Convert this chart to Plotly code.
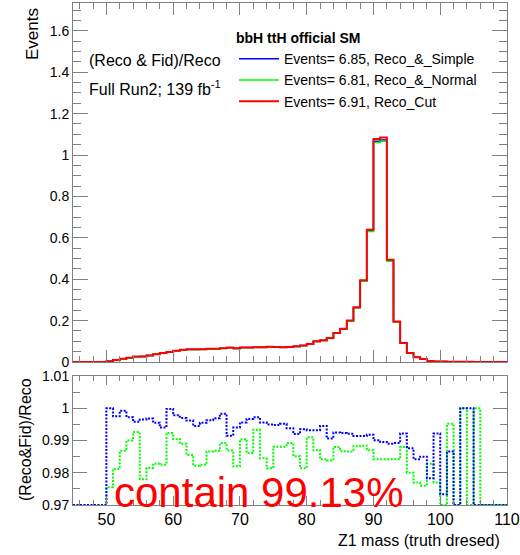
import numpy as np
import plotly.graph_objects as go

# ---------------- data ----------------
# 1 GeV bins from 45 to 110 (left edges 45..109)
bin_edges = list(range(45, 111))

# Reco_Cut (red) events per bin
reco_cut = [
    0, 0, 0, 0, 0,                                              # 45-49
    0.004, 0.010, 0.016, 0.020, 0.026, 0.027, 0.032, 0.038, 0.043, 0.048,  # 50-59
    0.054, 0.059, 0.061, 0.061, 0.062, 0.064, 0.064, 0.067, 0.070, 0.066,  # 60-69
    0.070, 0.070, 0.071, 0.071, 0.074, 0.073, 0.071, 0.073, 0.076, 0.080,  # 70-79
    0.087, 0.100, 0.105, 0.116, 0.140, 0.161, 0.200, 0.264, 0.395, 0.639,  # 80-89
    1.077, 1.084, 0.494, 0.196, 0.092, 0.043, 0.023, 0.014, 0.005, 0.003,  # 90-99
    0.002, 0.0015, 0.001, 0.0008, 0.0007, 0.0006, 0, 0, 0, 0,             # 100-109
]

# (Reco & Fid)/Reco ratios per bin
ratio_simple = [
    0, 0, 0, 0, 0,
    1.0000, 0.9975, 0.9992, 0.9972, 0.9958, 0.9965, 0.9968, 0.9955, 0.9940, 0.9998,
    0.9978, 0.9970, 0.9962, 0.9945, 0.9955, 0.9963, 0.9969, 0.9983, 0.9915, 0.9940,
    0.9956, 0.9967, 0.9972, 0.9956, 0.9950, 0.9948, 0.9952, 0.9938, 0.9920, 0.9935,
    0.9932, 0.9932, 0.9945, 0.9906, 0.9925, 0.9923, 0.9921, 0.9914, 0.9914, 0.9918,
    0.9901, 0.9895, 0.9890, 0.9892, 0.9922, 0.9876, 0.9842, 0.9850, 0.9783, 0.9922,
    0.9733, 0.9866, 0, 1.0, 1.0, 0, 0, 0, 0, 0,
]
ratio_normal = [
    0, 0, 0, 0, 0,
    0.9755, 0.9812, 0.9868, 0.9900, 0.9926, 0.9780, 0.9815, 0.9828, 0.9825, 0.9923,
    0.9905, 0.9890, 0.9855, 0.9822, 0.9825, 0.9866, 0.9868, 0.9892, 0.9869, 0.9820,
    0.9904, 0.9861, 0.9933, 0.9845, 0.9814, 0.9881, 0.9881, 0.9892, 0.9851, 0.9814,
    0.9910, 0.9870, 0.9842, 0.9838, 0.9880, 0.9867, 0.9866, 0.9882, 0.9884, 0.9870,
    0.9842, 0.9842, 0.9842, 0.9842, 0.9880, 0.9800, 0.9770, 0.9760, 0.9828, 0.9770,
    0, 0.9952, 0, 1.0, 0, 1.0, 0, 0, 0, 0,
]

legend_title = "bbH ttH official SM"
names = ["Events= 6.85, Reco_&_Simple", "Events= 6.81, Reco_&_Normal", "Events= 6.91, Reco_Cut"]
colors = ["#0000ff", "#00ff00", "#ff0000"]

# ---------------- figure ----------------
edges = np.array(bin_edges, dtype=float)
red = np.array(reco_cut)
blue = red * np.array(ratio_simple)
green = red * np.array(ratio_normal)

def step_y(v):
    v = list(v)
    return v + [v[-1]]

FONT = "Liberation Sans, Arial, Helvetica, sans-serif"
AX = "#808080"

fig = go.Figure()
for vals, nm, col, w in [(blue, names[0], colors[0], 1.5), (green, names[1], colors[1], 1.5), (red, names[2], colors[2], 2)]:
    fig.add_trace(go.Scatter(x=edges, y=step_y(vals), mode="lines", line=dict(color=col, width=w, shape="hv"),
                             name=nm, xaxis="x", yaxis="y"))

ymin2, ymax2 = 0.97, 1.01
for r, col in [(ratio_normal, colors[1]), (ratio_simple, colors[0])]:
    rr = np.clip(np.array(r), ymin2, ymax2)
    fig.add_trace(go.Scatter(x=edges, y=step_y(rr), mode="lines",
                             line=dict(color=col, width=2, shape="hv", dash="2px,1.5px"),
                             showlegend=False, xaxis="x2", yaxis="y2"))

W, H = 520, 555
ml, mr, mt, mb = 73, 13, 3, 50
pw, ph = W - ml - mr, H - mt - mb
def px(x):
    return (x - ml) / pw
def py(y):
    return (H - mb - y) / ph

common_x = dict(range=[45, 110], dtick=10, tick0=50, ticks="inside", tickcolor=AX, showline=True,
                linecolor=AX, linewidth=1, mirror="ticks", showgrid=False, zeroline=False, automargin=False)

fig.update_layout(
    width=W, height=H, margin=dict(l=ml, r=mr, t=mt, b=mb, autoexpand=False),
    paper_bgcolor="white", plot_bgcolor="white",
    font=dict(family=FONT, color="black", size=14),
    xaxis=dict(domain=[0, 1], anchor="y", showticklabels=False, ticklen=12,
               minor=dict(dtick=2, ticklen=6, ticks="inside", tickcolor=AX), **common_x),
    yaxis=dict(domain=[py(362), 1], anchor="x", range=[0, (362 - 3) / 207], dtick=0.2,
               ticks="inside", ticklen=15, tickcolor=AX, showline=True, linecolor=AX, mirror="ticks",
               minor=dict(dtick=0.05, ticklen=8, ticks="inside", tickcolor=AX),
               showgrid=False, zeroline=False, tickfont=dict(size=14), automargin=False),
    xaxis2=dict(domain=[0, 1], anchor="y2", ticklen=9, tickfont=dict(size=16),
                minor=dict(dtick=2, ticklen=5, ticks="inside", tickcolor=AX), **common_x),
    yaxis2=dict(domain=[0, py(376)], anchor="x2", range=[ymin2, ymax2], dtick=0.01,
                ticks="inside", ticklen=14, tickcolor=AX, showline=True, linecolor=AX, mirror="ticks",
                minor=dict(dtick=0.005, ticklen=7, ticks="inside", tickcolor=AX),
                showgrid=False, zeroline=False, tickfont=dict(size=14), automargin=False),
    legend=dict(x=px(234), y=py(25), xanchor="left", yanchor="top", bgcolor="rgba(0,0,0,0)",
                font=dict(size=14), title=dict(text=legend_title, font=dict(size=14, weight="bold")),
                tracegroupgap=0, itemwidth=40),
    showlegend=True,
)

ann = [
    dict(text="(Reco & Fid)/Reco", x=px(87), y=py(60), xanchor="left", yanchor="middle", font=dict(size=16)),
    dict(text="Full Run2; 139 fb<sup>-1</sup>", x=px(87), y=py(88), xanchor="left", yanchor="middle", font=dict(size=16)),
    dict(text="Events", x=px(32), y=py(6), xanchor="center", yanchor="top", textangle=-90, font=dict(size=17)),
    dict(text="(Reco&Fid)/Reco", x=px(25), y=py(440), xanchor="center", yanchor="middle", textangle=-90, font=dict(size=16)),
    dict(text="Z1 mass (truth dresed)", x=px(502), y=py(540), xanchor="right", yanchor="middle", font=dict(size=16)),
    dict(text="contain 99.13%", x=px(112), y=py(492), xanchor="left", yanchor="middle", font=dict(size=42, color="#ff0000")),
]
for a in ann:
    a.update(xref="paper", yref="paper", showarrow=False)
fig.update_layout(annotations=ann)

fig.write_html("out.html", config={"displayModeBar": False},
               post_script="document.body.style.margin='0px';document.body.style.padding='0px';")
